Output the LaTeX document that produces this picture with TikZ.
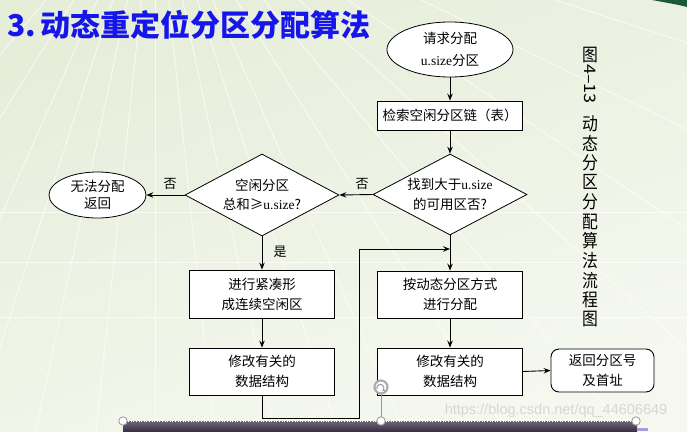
\documentclass[tikz,border=0pt]{standalone}
\usepackage{fontspec}
\setmainfont{Liberation Serif}
\newfontfamily\cjk{Noto Sans CJK SC}
\newfontfamily\latf{Liberation Serif}
\newfontfamily\wmf{Liberation Sans}
\usetikzlibrary{shapes.geometric,arrows.meta}
\definecolor{bgA}{RGB}{230,238,218}
\definecolor{bgB}{RGB}{246,248,240}
\definecolor{titleblue}{RGB}{22,22,236}
\definecolor{dkgreen}{RGB}{28,88,58}
\definecolor{barA}{RGB}{112,102,122}
\definecolor{barB}{RGB}{58,50,68}
\definecolor{lav}{RGB}{170,155,225}
\newcommand\us{{\latf u.size}}
\begin{document}
\begin{tikzpicture}[x=1pt,y=-1pt,
  box/.style={draw=black,fill=white,line width=0.9pt,minimum width=145pt,inner sep=0pt,align=center,font=\cjk\fontsize{13.5}{20}\selectfont},
  ell/.style={ellipse,draw=black,fill=white,inner sep=0pt,line width=0.8pt},
  dia/.style={diamond,draw=black,fill=white,inner sep=0pt,minimum width=154pt,minimum height=81pt,line width=0.8pt},
  txt/.style={align=center,inner sep=0pt,font=\cjk\fontsize{13.5}{20}\selectfont},
  arr/.style={line width=0.9pt,-{Stealth[length=7pt,width=5.5pt,inset=2.5pt]}},
  lbl/.style={inner sep=0pt,font=\cjk\fontsize{13}{15}\selectfont},
  capch/.style={inner sep=0pt,xscale=0.88,font=\cjk\fontsize{18}{18}\selectfont},
  ray/.style={white,line width=0.8pt,opacity=0.75}]
\useasboundingbox (0,0) rectangle (687,431);
\clip (0,0) rectangle (687,431);
% background
\shade[top color=bgA,bottom color=bgB,shading angle=20] (0,0) rectangle (687,431);
\foreach \a in {10,18,26,34,42,50,58,66,72,78,84,90,96,102,108,114,122,130,140,150,160}
  \draw[ray] (155,-130) -- ++(\a:1400);
\foreach \yy in {212,262,317}
  \draw[ray] (0,\yy) -- (687,\yy);
\fill[dkgreen] (652,0) .. controls (668,3) and (680,5) .. (687,7) -- (687,0) -- cycle;
% title
\node[anchor=west,inner sep=0pt,text=titleblue,font=\cjk\bfseries\fontsize{30}{30}\selectfont] (title) at (7,25) {3.\,动态重定位分区分配算法};
% nodes
\node[ell,minimum width=126pt,minimum height=55pt] (req) at (450,49.5) {};
\node[txt,font=\cjk\fontsize{13.5}{21.5}\selectfont] (reqt) at (req.center) {请求分配\\\us 分区};
\node[box,minimum height=29pt] (search) at (450,115.5) {检索空闲分区链（表）};
\node[dia] (d1) at (450,194.5) {};
\node[txt] (d1t) at (d1.center) {找到大于\us\\的可用区否?};
\node[dia,minimum height=82pt] (d2) at (262,195) {};
\node[txt,font=\cjk\fontsize{13.5}{19}\selectfont] (d2t) at (d2.center) {空闲分区\\总和≥\us?};
\node[ell,minimum width=97pt,minimum height=46pt] (fail) at (97.5,195) {};
\node[txt,font=\cjk\fontsize{13.5}{17.5}\selectfont] (failt) at (fail.center) {无法分配\\返回};
\node[box,minimum height=48pt] (compact) at (262,294) {进行紧凑形\\成连续空闲区};
\node[box,minimum height=47pt] (mod1) at (262,371.5) {修改有关的\\数据结构};
\node[box,minimum height=47pt] (alloc) at (450,294.5) {按动态分区方式\\进行分配};
\node[box,minimum height=47pt] (mod2) at (450,371.5) {修改有关的\\数据结构};
\node[box,minimum width=103pt,minimum height=43pt,rounded corners=8pt] (ret) at (602.5,370.5) {返回分区号\\及首址};
% connectors
\coordinate (c2) at (359,418);
\coordinate (J) at (450,249);
\draw[arr] (req.south) -- (search.north);
\draw[arr] (search.south) -- (d1.north);
\draw[arr] (d1.west) -- (d2.east);
\draw[arr] (d2.west) -- (fail.east);
\draw[arr] (d2.south) -- (compact.north);
\draw[arr] (compact.south) -- (mod1.north);
\draw[arr] (mod1.south) |- (c2) |- (J);
\draw[arr] (d1.south) -- (alloc.north);
\draw[arr] (alloc.south) -- (mod2.north);
\draw[arr] (mod2.east) -- (ret.west);
% labels
\node[lbl] (no1) at (362,184) {否};
\node[lbl] (no2) at (170,184) {否};
\node[lbl] (yes) at (280,252) {是};
% caption
\node[capch] (capA) at (590,55) {图};
\node[capch,rotate=-90,font=\cjk\fontsize{18}{18}\selectfont] (capB) at (590,84) {4–13};
\foreach \c [count=\i from 0] in {动,态,分,区,分,配,算,法,流,程,图}
  \node[capch] (cap\i) at (590,123.5+19.6*\i) {\c};
% watermark
\node[inner sep=0pt,text=gray!32,font=\wmf\fontsize{14.5}{15}\selectfont] (wm) at (556,411) {https://blog.csdn.net/qq\_44606649};
% bottom bar and handles
\shade[top color=barA,bottom color=barB] (123,421) rectangle (637,431);
\draw[white,dotted,line width=0.6pt] (123,421) -- (637,421);
\fill[lav] (637,428) rectangle (648,431);
\draw[gray!80,line width=0.7pt] (381,394) -- (381,421);
\foreach \xx in {123,381,636}
  \draw[gray!75,fill=white,line width=0.9pt] (\xx,421) circle (4.2pt);
\draw[gray!65,fill=white,line width=2.2pt] (381,387) circle (6.5pt);
\draw[gray!70,line width=1.2pt,-{Stealth[length=3pt,width=3.5pt]}] (377,389) arc[start angle=200,end angle=-60,radius=3.5pt];
\end{tikzpicture}
\end{document}
